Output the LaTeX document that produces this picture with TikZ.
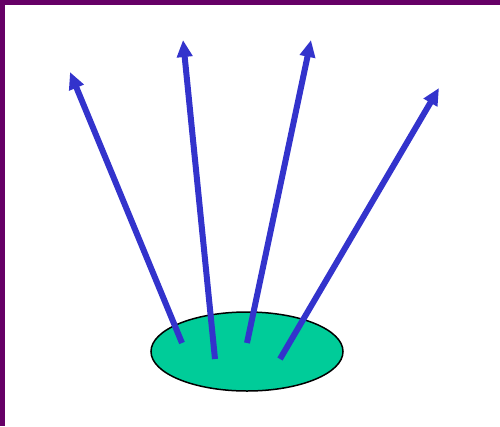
\documentclass[tikz,border=0pt]{standalone}
\usetikzlibrary{arrows.meta, shapes.geometric}
\definecolor{FrameViolet}{HTML}{660066}
\definecolor{SourceGreen}{HTML}{00CC99}
\definecolor{RayBlue}{HTML}{3333CC}
\tikzset{
    % source spot
    source/.style={
        ellipse,
        draw=black,
        fill=SourceGreen,
        line width=1.5pt,
        minimum width=192pt,
        minimum height=79pt,
        inner sep=0pt
    },
    % emitted rays
    ray/.style={
        -{Triangle[length=17pt, width=15pt]},
        line width=6pt,
        draw=RayBlue
    }
}
\begin{document}
\begin{tikzpicture}[x=1pt, y=-1pt]
    % frame
    \useasboundingbox (0,0) rectangle (500,426);
    \fill[FrameViolet] (0,0) rectangle (500,4.5);
    \fill[FrameViolet] (0,0) rectangle (4.5,426);

    % source
    \node[source] (spot) at (247,351.5) {};

    % ray start points inside the spot
    \coordinate (s1) at (182,343);
    \coordinate (s2) at (215,359);
    \coordinate (s3) at (247,343);
    \coordinate (s4) at (280,359);

    % ray end points
    \coordinate (e1) at (70,72);
    \coordinate (e2) at (183,40);
    \coordinate (e3) at (311,40);
    \coordinate (e4) at (439,88);

    % rays
    \draw[ray] (s1) -- (e1);
    \draw[ray] (s2) -- (e2);
    \draw[ray] (s3) -- (e3);
    \draw[ray] (s4) -- (e4);
\end{tikzpicture}
\end{document}
